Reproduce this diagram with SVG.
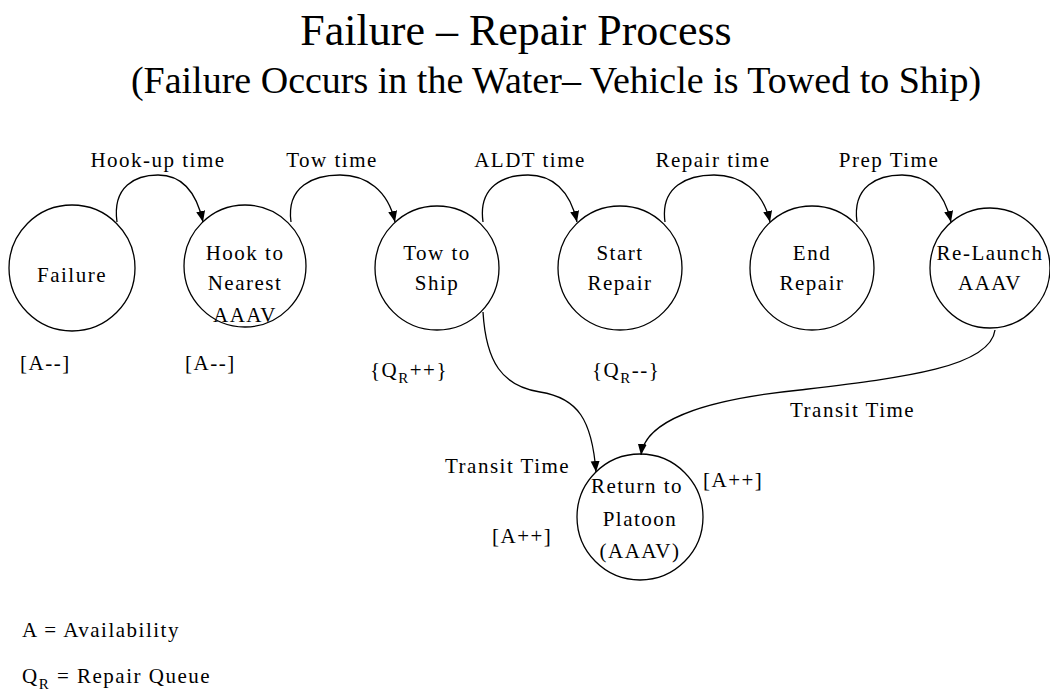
<svg xmlns="http://www.w3.org/2000/svg" width="1050" height="692" viewBox="0 0 1050 692">
<style>
.n{fill:none;stroke:#000;stroke-width:1.3}
.t{font-family:"Liberation Serif","Times New Roman",serif;font-size:21px;letter-spacing:1.5px;fill:#000}
.c{text-anchor:middle}
.h{font-family:"Liberation Serif","Times New Roman",serif;fill:#000;text-anchor:middle}
.e{fill:none;stroke:#000;stroke-width:1.3;marker-end:url(#ah)}
</style>
<defs>
<marker id="ah" markerUnits="userSpaceOnUse" markerWidth="12" markerHeight="10" refX="11" refY="4.5" orient="auto">
<path d="M0,0 L11,4.5 L0,9 z" fill="#000"/>
</marker>
</defs>
<rect width="1050" height="692" fill="#fff"/>
<text class="h" x="516" y="45" font-size="44">Failure – Repair Process</text>
<text class="h" x="556" y="93" font-size="38">(Failure Occurs in the Water– Vehicle is Towed to Ship)</text>

<g id="connectors">
<path class="e" d="M117,222 C112,186 136,175 158,175 C180,175 196,190 203,222"/>
<path class="e" d="M291,222 C286,186 314,175 340,175 C366,175 388,190 395,222"/>
<path class="e" d="M483,222 C478,186 504,175 528,175 C552,175 570,190 577,222"/>
<path class="e" d="M665,222 C660,186 688,175 714,175 C740,175 763,190 770,222"/>
<path class="e" d="M857,222 C852,186 878,175 902,175 C926,175 944,190 951,222"/>
<path class="e" d="M483,312 C486,362 502,386 540,392 C578,398 592,420 596,472"/>
<path class="e" d="M995,330 C990,368 900,378 800,390 C700,400 645,422 641,455"/>
</g>

<g id="failure"><circle class="n" cx="72" cy="268" r="63"/><text class="t c" x="72" y="282">Failure</text></g>
<g id="hook"><circle class="n" cx="245" cy="266" r="61"/><text class="t c" x="245" y="260">Hook to</text><text class="t c" x="245" y="290">Nearest</text><text class="t c" x="245" y="322">AAAV</text></g>
<g id="tow"><circle class="n" cx="437" cy="268" r="62"/><text class="t c" x="437" y="260">Tow to</text><text class="t c" x="437" y="290">Ship</text></g>
<g id="start"><circle class="n" cx="620" cy="268" r="62"/><text class="t c" x="620" y="260">Start</text><text class="t c" x="620" y="290">Repair</text></g>
<g id="end"><circle class="n" cx="812" cy="268" r="62"/><text class="t c" x="812" y="260">End</text><text class="t c" x="812" y="290">Repair</text></g>
<g id="relaunch"><circle class="n" cx="990" cy="268" r="60"/><text class="t c" x="990" y="260">Re-Launch</text><text class="t c" x="990" y="290">AAAV</text></g>
<g id="return"><circle class="n" cx="640" cy="517" r="63"/><text class="t c" x="637" y="493">Return to</text><text class="t c" x="640" y="526">Platoon</text><text class="t c" x="640" y="558">(AAAV)</text></g>

<g id="labels">
<text class="t c" x="158" y="167">Hook-up time</text>
<text class="t c" x="332" y="167">Tow time</text>
<text class="t c" x="530" y="167">ALDT time</text>
<text class="t c" x="713" y="167">Repair time</text>
<text class="t c" x="889" y="167">Prep Time</text>
<text class="t" x="20" y="370">[A--]</text>
<text class="t" x="185" y="370">[A--]</text>
<text class="t" x="370" y="377">{Q<tspan font-size="15" dy="6">R</tspan><tspan dy="-6">++}</tspan></text>
<text class="t" x="592" y="377">{Q<tspan font-size="15" dy="6">R</tspan><tspan dy="-6">--}</tspan></text>
<text class="t" x="790" y="417">Transit Time</text>
<text class="t" x="445" y="473">Transit Time</text>
<text class="t" x="703" y="487">[A++]</text>
<text class="t" x="492" y="543">[A++]</text>
<text class="t" x="22" y="637">A = Availability</text>
<text class="t" x="22" y="683">Q<tspan font-size="15" dy="6">R</tspan><tspan dy="-6"> = Repair Queue</tspan></text>
</g>
</svg>
